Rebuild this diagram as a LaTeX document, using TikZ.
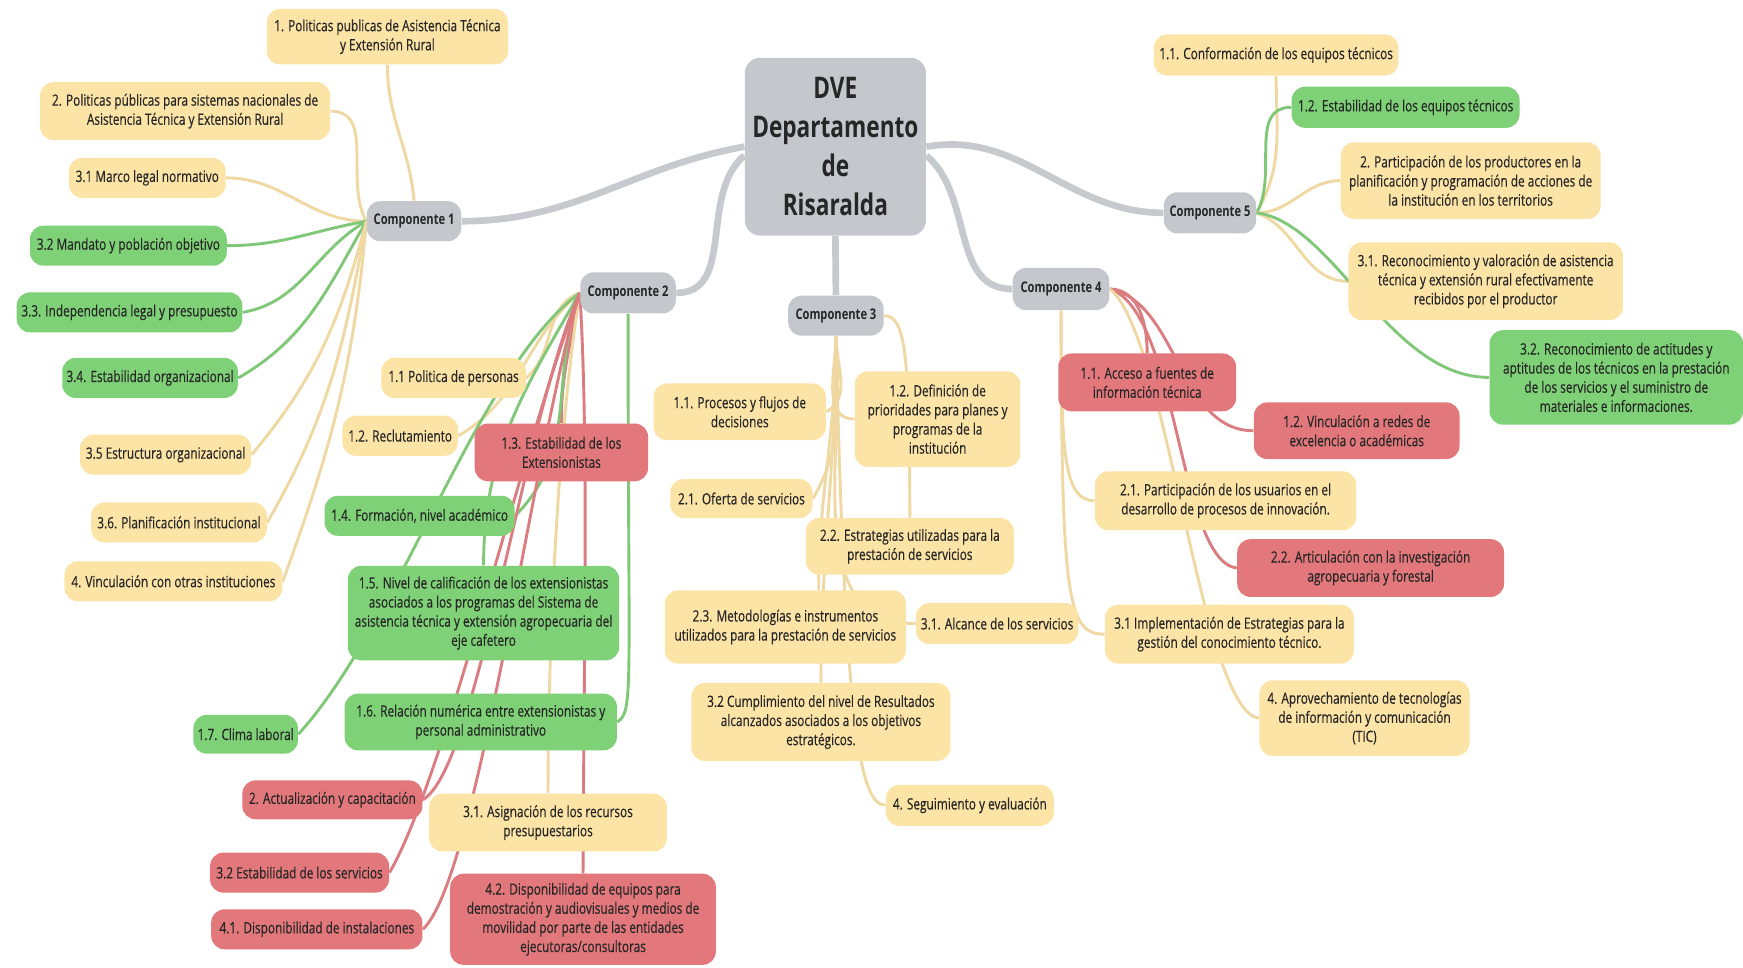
\documentclass[tikz,border=0pt]{standalone}
\usepackage{fontspec}
\setmainfont{Open Sans}[FakeStretch=0.76, UprightFeatures={FakeBold=0.35}]
\usepackage{tikz}
\usetikzlibrary{backgrounds}

\definecolor{topicyellow}{HTML}{FCE3A6}
\definecolor{topicgreen}{HTML}{7ED176}
\definecolor{topicred}{HTML}{E3787C}
\definecolor{topicgray}{HTML}{C4C8CD}
\definecolor{txtdark}{HTML}{262626}
\definecolor{linkyellow}{HTML}{EFD8A2}
\definecolor{linkgreen}{HTML}{80C878}
\definecolor{linkred}{HTML}{DA7C80}
\definecolor{linkgray}{HTML}{C6CACF}

\tikzset{
  topic/.style={rounded corners=6pt, align=center, inner sep=1.5pt,
    text=txtdark, font=\fontsize{7}{8.6}\selectfont},
  yeltopic/.style={topic, fill=topicyellow},
  grntopic/.style={topic, fill=topicgreen},
  redtopic/.style={topic, fill=topicred},
  comptopic/.style={topic, fill=topicgray, font=\fontsize{6.6}{8.6}\selectfont\bfseries},
  roottopic/.style={topic, fill=topicgray, rounded corners=7pt,
    font=\fontsize{13.4}{17.5}\selectfont\bfseries},
  sz/.style 2 args={minimum width=#1*0.5pt, minimum height=#2*0.5pt},
  ylink/.style={draw=linkyellow, line width=1.3pt},
  glink/.style={draw=linkgreen, line width=1.3pt},
  rlink/.style={draw=linkred, line width=1.3pt},
  rootlink/.style={draw=linkgray, line width=3pt},
}

\begin{document}
\begin{tikzpicture}[x=0.5pt, y=-0.5pt]
  \useasboundingbox (0,0) rectangle (1568,870);

  % raiz
  \node[roottopic, sz={163}{160}] (dve) at (751.5,132) {DVE\\Departamento\\de\\Risaralda};

  % Componente 1
  \node[comptopic, sz={85}{36}] (comp1) at (372.5,199) {Componente 1};
  \node[yeltopic, sz={217}{50}] (politicas1) at (348.5,33) {1. Politicas publicas de Asistencia Técnica\\y Extensión Rural};
  \node[yeltopic, sz={261}{52}] (politicas2) at (166.5,100) {2. Politicas públicas para sistemas nacionales de\\Asistencia Técnica y Extensión Rural};
  \node[yeltopic, sz={141}{36}] (marco) at (132.5,160) {3.1 Marco legal normativo};
  \node[grntopic, sz={177}{36}] (mandato) at (115.5,221) {3.2 Mandato y población objetivo};
  \node[grntopic, sz={203}{36}] (independencia) at (116.5,281) {3.3. Independencia legal y presupuesto};
  \node[grntopic, sz={158}{36}] (estabilidadorg) at (135,340) {3.4. Estabilidad organizacional};
  \node[yeltopic, sz={154}{36}] (estructura) at (149,409) {3.5 Estructura organizacional};
  \node[yeltopic, sz={158}{36}] (planificacion) at (161,470) {3.6. Planificación institucional};
  \node[yeltopic, sz={196}{36}] (vinculacion) at (156,523) {4. Vinculación con otras instituciones};

  % Componente 2
  \node[comptopic, sz={86}{37}] (comp2) at (565,263.5) {Componente 2};
  \node[yeltopic, sz={130}{36}] (personas) at (408,340) {1.1 Politica de personas};
  \node[yeltopic, sz={104}{36}] (reclutamiento) at (360,392) {1.2. Reclutamiento};
  \node[redtopic, sz={156}{52}] (estabext) at (505,407) {1.3. Estabilidad de los\\Extensionistas};
  \node[grntopic, sz={171}{36}] (formacion) at (377.5,464) {1.4. Formación, nivel académico};
  \node[grntopic, sz={244}{85}] (calificacion) at (435,551.5) {1.5. Nivel de calificación de los extensionistas\\asociados a los programas del Sistema de\\asistencia técnica y extensión agropecuaria del\\eje cafetero};
  \node[grntopic, sz={245}{51}] (relacion) at (432.5,649.5) {1.6. Relación numérica entre extensionistas y\\personal administrativo};
  \node[grntopic, sz={94}{35}] (clima) at (221,660.5) {1.7. Clima laboral};
  \node[redtopic, sz={162}{35}] (actualizacion) at (299,719.5) {2. Actualización y capacitación};
  \node[yeltopic, sz={214}{52}] (asignacion) at (493,740) {3.1. Asignación de los recursos\\presupuestarios};
  \node[redtopic, sz={161}{36}] (estabserv) at (269.5,785) {3.2 Estabilidad de los servicios};
  \node[redtopic, sz={190}{36}] (instalaciones) at (285,836) {4.1. Disponibilidad de instalaciones};
  \node[redtopic, sz={239}{82}] (equipos) at (524.5,827) {4.2. Disponibilidad de equipos para\\demostración y audiovisuales y medios de\\movilidad por parte de las entidades\\ejecutoras/consultoras};

  % Componente 3
  \node[comptopic, sz={86}{36}] (comp3) at (752,284) {Componente 3};
  \node[yeltopic, sz={155}{51}] (procesos) at (665.5,370.5) {1.1. Procesos y flujos de\\decisiones};
  \node[yeltopic, sz={149}{86}] (prioridades) at (843.5,377) {1.2. Definición de\\prioridades para planes y\\programas de la\\institución};
  \node[yeltopic, sz={128}{35}] (oferta) at (667,448.5) {2.1. Oferta de servicios};
  \node[yeltopic, sz={187}{51}] (estrategias) at (818.5,491.5) {2.2. Estrategias utilizadas para la\\prestación de servicios};
  \node[yeltopic, sz={217}{66}] (metodologias) at (706.5,564) {2.3. Metodologías e instrumentos\\utilizados para la prestación de servicios};
  \node[yeltopic, sz={146}{37}] (alcance) at (897,561) {3.1. Alcance de los servicios};
  \node[yeltopic, sz={233}{70}] (cumplimiento) at (738.5,649.5) {3.2 Cumplimiento del nivel de Resultados\\alcanzados asociados a los objetivos\\estratégicos.};
  \node[yeltopic, sz={151}{37}] (seguimiento) at (872.5,724.5) {4. Seguimiento y evaluación};

  % Componente 4
  \node[comptopic, sz={87}{38}] (comp4) at (954.5,260) {Componente 4};
  \node[redtopic, sz={160}{52}] (acceso) at (1032,344) {1.1. Acceso a fuentes de\\información técnica};
  \node[redtopic, sz={185}{51}] (redes) at (1220.5,387.5) {1.2. Vinculación a redes de\\excelencia o académicas};
  \node[yeltopic, sz={235}{53}] (participacion) at (1102.5,450.5) {2.1. Participación de los usuarios en el\\desarrollo de procesos de innovación.};
  \node[redtopic, sz={240}{52}] (articulacion) at (1233,511) {2.2. Articulación con la investigación\\agropecuaria y forestal};
  \node[yeltopic, sz={224}{53}] (implementacion) at (1106,570.5) {3.1 Implementación de Estrategias para la\\gestión del conocimiento técnico.};
  \node[yeltopic, sz={189}{68}] (tic) at (1227.5,646) {4. Aprovechamiento de tecnologías\\de información y comunicación\\(TIC)};

  % Componente 5
  \node[comptopic, sz={83}{37}] (comp5) at (1088.5,191.5) {Componente 5};
  \node[yeltopic, sz={220}{37}] (conformacion) at (1148,49.5) {1.1. Conformación de los equipos técnicos};
  \node[grntopic, sz={205}{37}] (estabequipos) at (1264.5,96.5) {1.2. Estabilidad de los equipos técnicos};
  \node[yeltopic, sz={234}{69}] (productores) at (1323,162.5) {2. Participación de los productores en la\\planificación y programación de acciones de\\la institución en los territorios};
  \node[yeltopic, sz={247}{70}] (reconocimiento) at (1336.5,253) {3.1. Reconocimiento y valoración de asistencia\\técnica y extensión rural efectivamente\\recibidos por el productor};
  \node[grntopic, sz={228}{85}] (actitudes) at (1454,339.5) {3.2. Reconocimiento de actitudes y\\aptitudes de los técnicos en la prestación\\de los servicios y el suministro de\\materiales e informaciones.};

  \begin{pgfonlayer}{background}
    \fill[white] (0,0) rectangle (1568,870);

    % ramas principales
    \draw[rootlink] (dve.west) to[out=190,in=0] (comp1.east);
    \draw[rootlink] ([yshift=-4pt]dve.west) to[out=220,in=0] (comp2.east);
    \draw[rootlink] (dve.south) -- (comp3.north);
    \draw[rootlink] ([yshift=-4pt]dve.east) to[out=-40,in=180] (comp4.west);
    \draw[rootlink] (dve.east) to[out=10,in=180] (comp5.west);

    % Componente 1
    \draw[ylink] (comp1.north) to[out=95,in=-90] (politicas1.south);
    \draw[ylink] (comp1.west) to[out=120,in=0] (politicas2.east);
    \draw[ylink] (comp1.west) to[out=180,in=0] (marco.east);
    \draw[glink] (comp1.west) to[out=190,in=0] (mandato.east);
    \draw[glink] (comp1.west) to[out=210,in=10] (independencia.east);
    \draw[glink] (comp1.west) to[out=240,in=30] (estabilidadorg.east);
    \draw[ylink] (comp1.west) to[out=255,in=50] (estructura.east);
    \draw[ylink] (comp1.west) to[out=260,in=60] (planificacion.east);
    \draw[ylink] (comp1.west) to[out=265,in=70] (vinculacion.east);

    % Componente 2
    \draw[ylink] (comp2.west) to[out=200,in=40] (personas.east);
    \draw[ylink] (comp2.west) to[out=220,in=30] (reclutamiento.east);
    \draw[rlink] (comp2.west) to[out=260,in=90] (estabext.north);
    \draw[glink] (comp2.west) to[out=250,in=45] (formacion.east);
    \draw[glink] (comp2.west) to[out=240,in=90] (calificacion.north);
    \draw[glink] (comp2.south) .. controls +(0,340) and +(15,-10) .. (relacion.east);
    \draw[glink] (comp2.west) .. controls (430,330) and (360,560) .. (clima.east);
    \draw[rlink] (comp2.west) .. controls (470,380) and (430,690) .. (actualizacion.east);
    \draw[ylink] (comp2.west) .. controls (500,400) and (493,600) .. (asignacion.north);
    \draw[rlink] (comp2.west) .. controls (470,400) and (400,700) .. (estabserv.east);
    \draw[rlink] (comp2.west) .. controls (480,400) and (430,790) .. (instalaciones.east);
    \draw[rlink] (comp2.west) .. controls (530,400) and (525,600) .. (equipos.north);

    % Componente 3
    \draw[ylink] (comp3.south) to[out=-90,in=30] (procesos.east);
    \draw[ylink] (comp3.south) to[out=-90,in=180] (prioridades.west);
    \draw[ylink] (comp3.east) .. controls (815,284) and (818,320) .. (estrategias.north);
    \draw[ylink] (comp3.south) to[out=-90,in=60] (oferta.east);
    \draw[ylink] (comp3.south) to[out=-90,in=90] ([xshift=15pt]metodologias.north);
    \draw[ylink] (comp3.south) to[out=-85,in=180] (alcance.west);
    \draw[ylink] (comp3.south) to[out=-90,in=90] (cumplimiento.north);
    \draw[ylink] (comp3.south) .. controls (760,640) and (772,724.5) .. (seguimiento.west);

    % Componente 4
    \draw[ylink] (comp4.south) .. controls (955,400) and (955,450.5) .. (participacion.west);
    \draw[ylink] (comp4.south) .. controls (955,540) and (960,570.5) .. (implementacion.west);
    \draw[rlink] (comp4.east) to[out=0,in=90] (acceso.north);
    \draw[rlink] (comp4.east) .. controls (1060,272) and (1060,387.5) .. (redes.west);
    \draw[rlink] (comp4.east) .. controls (1060,280) and (1060,505) .. (articulacion.west);
    \draw[ylink] (comp4.east) .. controls (1050,300) and (1080,640) .. (tic.west);

    % Componente 5
    \draw[ylink] (comp5.east) to[out=60,in=-90] (conformacion.south);
    \draw[glink] (comp5.east) to[out=60,in=180] (estabequipos.west);
    \draw[ylink] (comp5.east) to[out=0,in=180] (productores.west);
    \draw[ylink] (comp5.east) to[out=-20,in=180] (reconocimiento.west);
    \draw[glink] (comp5.east) .. controls (1200,200) and (1250,340) .. (actitudes.west);
  \end{pgfonlayer}
\end{tikzpicture}
\end{document}
